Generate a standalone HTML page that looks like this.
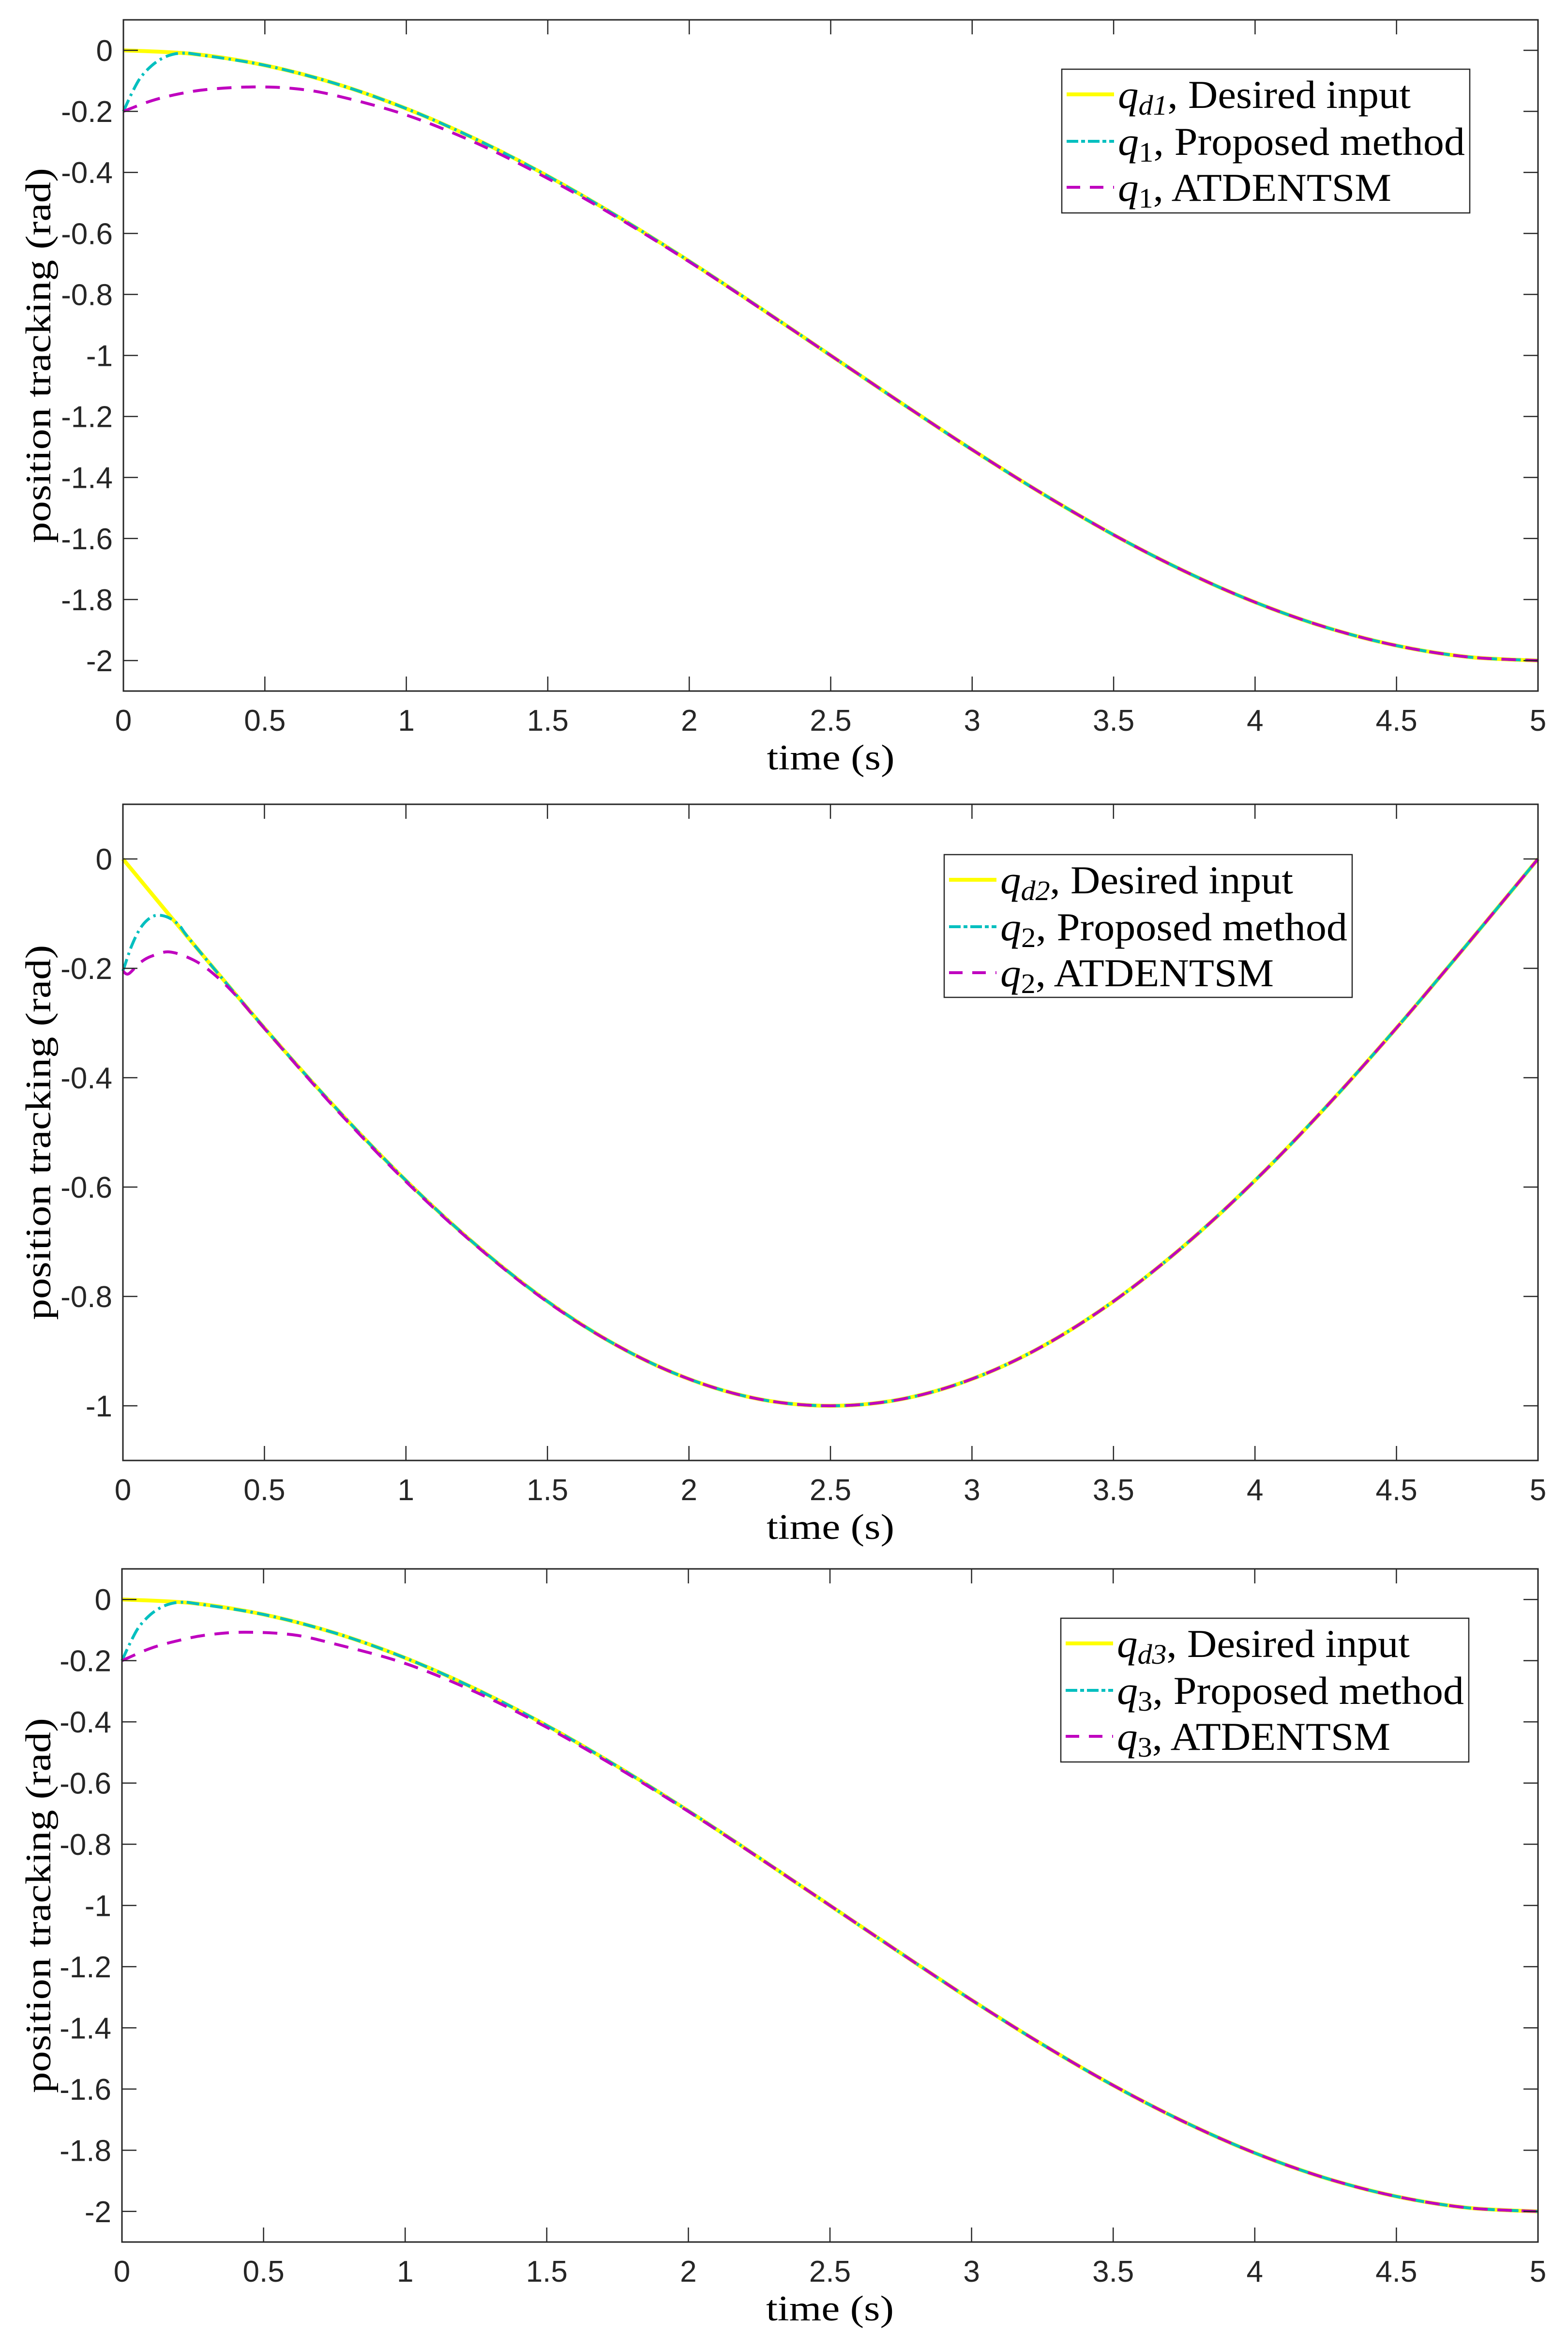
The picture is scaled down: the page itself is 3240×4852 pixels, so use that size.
<!DOCTYPE html>
<html><head><meta charset="utf-8">
<style>
html,body{margin:0;padding:0;background:#fff;}
svg{display:block;}
.tick{font-family:"Liberation Sans",sans-serif;font-size:62px;fill:#262626;}
.lab{font-family:"Liberation Serif",serif;font-size:74px;fill:#000;}
.leg{font-family:"Liberation Serif",serif;font-size:82px;fill:#000;}
</style></head>
<body>
<svg id="fig" width="3240" height="4852" viewBox="0 0 3240 4852" xmlns="http://www.w3.org/2000/svg"></svg>
<script>
// ---- data ----
const xTicks = [0, 0.5, 1, 1.5, 2, 2.5, 3, 3.5, 4, 4.5, 5];
const xTickLabels = ["0","0.5","1","1.5","2","2.5","3","3.5","4","4.5","5"];
const yTicks13 = [0,-0.2,-0.4,-0.6,-0.8,-1,-1.2,-1.4,-1.6,-1.8,-2];
const yTickLabels13 = ["0","-0.2","-0.4","-0.6","-0.8","-1","-1.2","-1.4","-1.6","-1.8","-2"];
const yTicks2 = [0,-0.2,-0.4,-0.6,-0.8,-1];
const yTickLabels2 = ["0","-0.2","-0.4","-0.6","-0.8","-1"];

const tDes = [0,0.25,0.5,0.75,1,1.25,1.5,1.75,2,2.25,2.5,2.75,3,3.25,3.5,3.75,4,4.25,4.5,4.75,5];
const qd1 = [0,-0.012,-0.049,-0.109,-0.191,-0.293,-0.412,-0.546,-0.691,-0.844,-1,-1.156,-1.309,-1.454,-1.588,-1.707,-1.809,-1.891,-1.951,-1.988,-2];
const tProp1 = [0,0.03,0.06,0.1,0.14,0.18,0.22,0.25,0.5,0.75,1,1.25,1.5,1.75,2,2.25,2.5,2.75,3,3.25,3.5,3.75,4,4.25,4.5,4.75,5];
const qp1 = [-0.2,-0.14,-0.09,-0.05,-0.025,-0.012,-0.009,-0.012,-0.049,-0.109,-0.191,-0.293,-0.412,-0.546,-0.691,-0.844,-1,-1.156,-1.309,-1.454,-1.588,-1.707,-1.809,-1.891,-1.951,-1.988,-2];
const tAt1 = [0,0.1,0.2,0.3,0.45,0.6,0.75,1,1.25,1.5,1.75,2,2.25,2.5,2.75,3,3.25,3.5,3.75,4,4.25,4.5,4.75,5];
const qa1 = [-0.2,-0.165,-0.142,-0.128,-0.12,-0.125,-0.148,-0.212,-0.305,-0.42,-0.55,-0.693,-0.845,-1,-1.156,-1.309,-1.454,-1.588,-1.707,-1.809,-1.891,-1.951,-1.988,-2];

const qd2 = [0,-0.156,-0.309,-0.454,-0.588,-0.707,-0.809,-0.891,-0.951,-0.988,-1,-0.988,-0.951,-0.891,-0.809,-0.707,-0.588,-0.454,-0.309,-0.156,0];
const tProp2 = [0,0.03,0.06,0.09,0.12,0.16,0.2,0.25,0.5,0.75,1,1.25,1.5,1.75,2,2.25,2.5,2.75,3,3.25,3.5,3.75,4,4.25,4.5,4.75,5];
const qp2 = [-0.205,-0.16,-0.128,-0.11,-0.103,-0.107,-0.122,-0.156,-0.309,-0.454,-0.588,-0.707,-0.809,-0.891,-0.951,-0.988,-1,-0.988,-0.951,-0.891,-0.809,-0.707,-0.588,-0.454,-0.309,-0.156,0];
const tAt2 = [0,0.02,0.06,0.1,0.165,0.25,0.32,0.4,0.5,0.75,1,1.25,1.5,1.75,2,2.25,2.5,2.75,3,3.25,3.5,3.75,4,4.25,4.5,4.75,5];
const qa2 = [-0.205,-0.21,-0.19,-0.178,-0.17,-0.185,-0.21,-0.25,-0.31,-0.456,-0.59,-0.708,-0.81,-0.891,-0.951,-0.988,-1,-0.988,-0.951,-0.891,-0.809,-0.707,-0.588,-0.454,-0.309,-0.156,0];

const qd3 = qd1;
const qp3 = qp1;
const tAt3 = [0,0.1,0.2,0.3,0.43,0.6,0.75,1,1.25,1.5,1.75,2,2.25,2.5,2.75,3,3.25,3.5,3.75,4,4.25,4.5,4.75,5];
const qa3 = [-0.2,-0.16,-0.134,-0.116,-0.107,-0.115,-0.145,-0.209,-0.303,-0.418,-0.55,-0.693,-0.845,-1,-1.156,-1.309,-1.454,-1.588,-1.707,-1.809,-1.891,-1.951,-1.988,-2];

const legendTexts1 = [["q","d1",", Desired input"],["q","1",", Proposed method"],["q","1",", ATDENTSM"]];
const legendTexts2 = [["q","d2",", Desired input"],["q","2",", Proposed method"],["q","2",", ATDENTSM"]];
const legendTexts3 = [["q","d3",", Desired input"],["q","3",", Proposed method"],["q","3",", ATDENTSM"]];

// ---- drawing ----
const NS = "http://www.w3.org/2000/svg";
const svg = document.getElementById('fig');
function mk(tag, attrs, parent){ const e=document.createElementNS(NS,tag); for(const k in attrs) e.setAttribute(k,attrs[k]); (parent||svg).appendChild(e); return e; }

const styles = {
  des:{stroke:"#ffff00",w:8,dash:null},
  prop:{stroke:"#00bfbf",w:6,dash:"26 9 5 9"},
  at:{stroke:"#bf00bf",w:6,dash:"30 20"}
};

function smoothPath(pts){
  let d='M'+pts[0][0].toFixed(1)+','+pts[0][1].toFixed(1);
  for(let i=0;i<pts.length-1;i++){
    const p0=pts[Math.max(0,i-1)],p1=pts[i],p2=pts[i+1],p3=pts[Math.min(pts.length-1,i+2)];
    const c1x=p1[0]+(p2[0]-p0[0])/6, c1y=p1[1]+(p2[1]-p0[1])/6;
    const c2x=p2[0]-(p3[0]-p1[0])/6, c2y=p2[1]-(p3[1]-p1[1])/6;
    d+='C'+c1x.toFixed(1)+','+c1y.toFixed(1)+' '+c2x.toFixed(1)+','+c2y.toFixed(1)+' '+p2[0].toFixed(1)+','+p2[1].toFixed(1);
  }
  return d;
}

function drawAxes(ax){
  const g = mk('g',{});
  
  
  const L=ax.left,R=ax.right,T=ax.top,B=ax.bottom;
  const xs = t => L + (t-0)/(5-0)*(R-L);
  const ys = v => T + (ax.ymax - v)/(ax.ymax-ax.ymin)*(B-T);
  const series = [
    {t:tDes, v:ax.qd, s:styles.des, n:'desired-input-line'},
    {t:ax.tp, v:ax.qp, s:styles.prop, n:'proposed-method-line'},
    {t:ax.ta, v:ax.qa, s:styles.at, n:'atdentsm-line'}
  ];
  series.forEach(sr=>{
    const pts = sr.t.map((t,i)=>[xs(t),ys(sr.v[i])]);
    const p = mk('path',{d:smoothPath(pts),fill:'none',stroke:sr.s.stroke,'stroke-width':sr.s.w,'stroke-linejoin':'round'},g);
    if(sr.s.dash) p.setAttribute('stroke-dasharray',sr.s.dash);
    
    
  });
  const box = mk('rect',{x:L,y:T,width:R-L,height:B-T,fill:'none',stroke:'#262626','stroke-width':3},g);
  
  
  xTicks.forEach((t,i)=>{
    const x=xs(t);
    mk('line',{x1:x,y1:B,x2:x,y2:B-30,stroke:'#262626','stroke-width':2.5},g);
    mk('line',{x1:x,y1:T,x2:x,y2:T+30,stroke:'#262626','stroke-width':2.5},g);
    const tx = mk('text',{x:x,y:B+82,'text-anchor':'middle',class:'tick'},g);
    tx.textContent = xTickLabels[i];
    
    
  });
  ax.yt.forEach((v,i)=>{
    const y=ys(v);
    mk('line',{x1:L,y1:y,x2:L+30,y2:y,stroke:'#262626','stroke-width':2.5},g);
    mk('line',{x1:R,y1:y,x2:R-30,y2:y,stroke:'#262626','stroke-width':2.5},g);
    const tx = mk('text',{x:L-22,y:y+22,'text-anchor':'end',class:'tick'},g);
    tx.textContent = ax.ytl[i];
    
    
  });
  const xl = mk('text',{x:(L+R)/2,y:B+162,'text-anchor':'middle',class:'lab',textLength:264,lengthAdjust:'spacingAndGlyphs'},g);
  xl.textContent='time (s)';
  
  
  const cy=(T+B)/2;
  const yl = mk('text',{x:0,y:0,'text-anchor':'middle',class:'lab',textLength:775,lengthAdjust:'spacingAndGlyphs',transform:`translate(${ax.ylx},${cy}) rotate(-90)`},g);
  yl.textContent='position tracking (rad)';
  
  
  const lg = mk('g',{},g);
  
  
  const lb = ax.leg;
  mk('rect',{x:lb.x,y:lb.y,width:lb.w,height:lb.h,fill:'#fff',stroke:'#262626','stroke-width':2.5},lg);
  const rowOff=[52,149,244];
  const sty=[styles.des,styles.prop,styles.at];
  const lens=[lb.len1,lb.len2,lb.len3];
  ax.lt.forEach((row,i)=>{
    const y=lb.y+rowOff[i];
    const ln = mk('line',{x1:lb.x+10,y1:y,x2:lb.x+108,y2:y,stroke:sty[i].stroke,'stroke-width':sty[i].w},lg);
    if(sty[i].dash) ln.setAttribute('stroke-dasharray', i==1?"24 6 8 6":"28 20");
    
    
    const tx = mk('text',{x:lb.x+116,y:y+28,class:'leg',textLength:lens[i],lengthAdjust:'spacingAndGlyphs'},lg);
    const a=document.createElementNS(NS,'tspan'); a.setAttribute('font-style','italic'); a.textContent=row[0]; tx.appendChild(a);
    const b=document.createElementNS(NS,'tspan'); b.setAttribute('font-size','58'); b.setAttribute('dy','14'); if(row[1][0]=='d'){ b.setAttribute('font-style','italic'); } b.textContent=row[1]; tx.appendChild(b);
    const c=document.createElementNS(NS,'tspan'); c.setAttribute('dy','-14'); c.textContent=row[2]; tx.appendChild(c);
    
    
  });
}

drawAxes({name:'plot-joint-1',left:255,right:3178,top:41,bottom:1428,ymax:0.1,ymin:-2.1,
  qd:qd1,tp:tProp1,qp:qp1,ta:tAt1,qa:qa1,yt:yTicks13,ytl:yTickLabels13,lt:legendTexts1,ylx:104,
  leg:{x:2194,y:143,w:843,h:297,len1:605,len2:717,len3:565}});
drawAxes({name:'plot-joint-2',left:254,right:3178,top:1662,bottom:3018,ymax:0.1,ymin:-1.1,
  qd:qd2,tp:tProp2,qp:qp2,ta:tAt2,qa:qa2,yt:yTicks2,ytl:yTickLabels2,lt:legendTexts2,ylx:104,
  leg:{x:1951,y:1766,w:843,h:295,len1:605,len2:717,len3:565}});
drawAxes({name:'plot-joint-3',left:252,right:3178,top:3242,bottom:4633,ymax:0.1,ymin:-2.1,
  qd:qd3,tp:tProp1,qp:qp3,ta:tAt3,qa:qa3,yt:yTicks13,ytl:yTickLabels13,lt:legendTexts3,ylx:104,
  leg:{x:2192,y:3344,w:843,h:297,len1:605,len2:717,len3:565}});
</script>
</body></html>
